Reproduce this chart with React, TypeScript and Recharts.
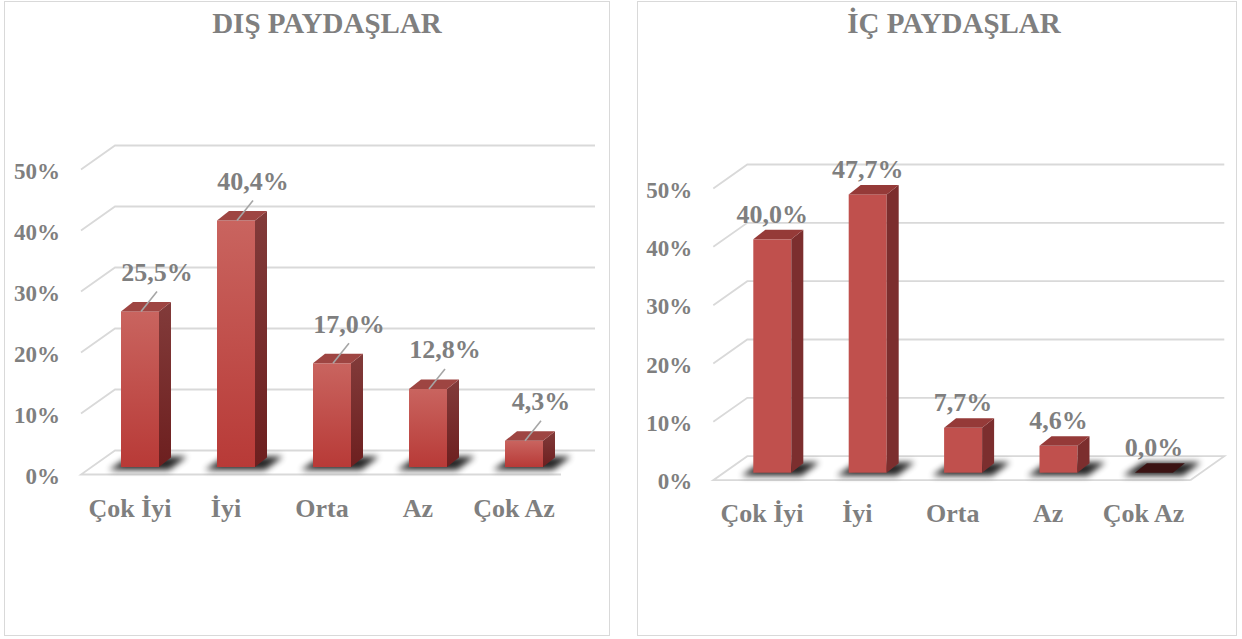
import React from "react";
import { Bar, BarChart, CartesianGrid, XAxis, YAxis } from "recharts";

const categories = ["Çok İyi", "İyi", "Orta", "Az", "Çok Az"];
const disValues = [25.5, 40.4, 17.0, 12.8, 4.3];
const icValues = [40.0, 47.7, 7.7, 4.6, 0.0];
const yTicks = [0, 10, 20, 30, 40, 50];

const FONT = '"Liberation Serif", "Times New Roman", serif';
const GRAY = "#7f7f7f";
const GRID = "#d9d9d9";
const DEPTH_X = 12;
const DEPTH_Y = 9.5;
const Y_AXIS_W = 40;

const fmt = (v: number) => v.toFixed(1).replace(".", ",") + "%";

interface PanelCfg {
  id: string;
  title: string;
  titleX: number;
  values: number[];
  offsetX: number;
  plotTop: number;
  plotBottom: number;
  plotLeft: number;
  plotWidth: number;
  leader: boolean;
  floorEdge: boolean;
  gradient: boolean;
}

const panels: PanelCfg[] = [
  {
    id: "dis",
    title: "DIŞ PAYDAŞLAR",
    titleX: 327,
    values: disValues,
    offsetX: 0,
    plotTop: 162,
    plotBottom: 467,
    plotLeft: 92,
    plotWidth: 480,
    leader: true,
    floorEdge: false,
    gradient: true,
  },
  {
    id: "ic",
    title: "İÇ PAYDAŞLAR",
    titleX: 954,
    values: icValues,
    offsetX: 630,
    plotTop: 181,
    plotBottom: 472.7,
    plotLeft: 94.3,
    plotWidth: 477,
    leader: false,
    floorEdge: true,
    gradient: false,
  },
];

const CHART_W = 612;
const CHART_H = 639;

function gridLine(cfg: PanelCfg) {
  return (props: any) => {
    const { x1, x2, y1, index } = props;
    const fy = y1 + 7.5;
    const by = y1 - 16.5;
    const fx = x1 - 11;
    const bx = x1 + 23;
    if (Math.abs(y1 - cfg.plotBottom) < 1) {
      return (
        <g key={`g-${index}`}>
          <path
            d={`M${fx},${fy} L${x2 - 11},${fy} L${x2 + 23},${by} L${bx},${by} Z`}
            fill="#ffffff"
            stroke="none"
          />
          <path
            d={`M${x2 - 11},${fy} L${fx},${fy} L${bx},${by} L${x2 + 23},${by}${
              cfg.floorEdge ? ` L${x2 - 11},${fy}` : ""
            }`}
            fill="none"
            stroke={GRID}
            strokeWidth={1.8}
          />
        </g>
      );
    }
    return (
      <path
        key={`g-${index}`}
        d={`M${fx},${fy} L${bx},${by} L${x2 + 23},${by}`}
        fill="none"
        stroke={GRID}
        strokeWidth={1.8}
      />
    );
  };
}

function YTick(props: any) {
  const { x, y, payload } = props;
  return (
    <text
      x={x - 32}
      y={y + 9}
      textAnchor="end"
      dominantBaseline="central"
      fill={GRAY}
      fontFamily={FONT}
      fontWeight="bold"
      fontSize={23}
    >
      {payload.value}%
    </text>
  );
}

function XTick(props: any) {
  const { x, y, payload } = props;
  return (
    <text
      x={x - 10}
      y={y + 41}
      textAnchor="middle"
      dominantBaseline="central"
      fill={GRAY}
      fontFamily={FONT}
      fontWeight="bold"
      fontSize={26}
    >
      {payload.value}
    </text>
  );
}

function barShape(cfg: PanelCfg) {
  return (props: any) => {
    const { x, y, width, height, index, value } = props;
    const v = typeof value === "number" ? value : Number(props.payload?.value ?? 0);
    const top = y;
    const bottom = y + height;
    const cx = x + width / 2;
    const gid = `${cfg.id}-${index}`;
    const frontFill = cfg.gradient ? `url(#front-${gid})` : "#c0504d";
    const sideFill = cfg.gradient ? `url(#side-${gid})` : "#7c2e2e";
    const topFill = v === 0 ? "#3b1313" : cfg.gradient ? "#9e4542" : "#953a38";
    const labelX = cfg.leader ? cx + 17 : cx;
    const labelY = cfg.leader ? top - 39 : top - 25;
    return (
      <g>
        <defs>
          <linearGradient id={`front-${gid}`} x1="0" y1="0" x2="0" y2="1">
            <stop offset="0%" stopColor="#c9645f" />
            <stop offset="100%" stopColor="#b83a37" />
          </linearGradient>
          <linearGradient id={`side-${gid}`} x1="0" y1="0" x2="0" y2="1">
            <stop offset="0%" stopColor="#823b3a" />
            <stop offset="100%" stopColor="#6d1f1f" />
          </linearGradient>
          <filter id={`blur-${gid}`} x="-50%" y="-100%" width="200%" height="300%">
            <feGaussianBlur stdDeviation="3" />
          </filter>
        </defs>
        <polygon
          points={`${x - 12},${bottom + 3} ${x + width + 10},${bottom + 3} ${
            x + width + DEPTH_X + 16
          },${bottom - DEPTH_Y - 1} ${x + DEPTH_X - 4},${bottom - DEPTH_Y - 1}`}
          fill="#000"
          opacity={0.85}
          filter={`url(#blur-${gid})`}
        />
        {height > 0 && <rect x={x} y={top} width={width} height={height} fill={frontFill} />}
        {height > 0 && (
          <polygon
            points={`${x + width},${top} ${x + width + DEPTH_X},${top - DEPTH_Y} ${
              x + width + DEPTH_X
            },${bottom - DEPTH_Y} ${x + width},${bottom}`}
            fill={sideFill}
          />
        )}
        <polygon
          points={`${x},${top} ${x + width},${top} ${x + width + DEPTH_X},${top - DEPTH_Y} ${
            x + DEPTH_X
          },${top - DEPTH_Y}`}
          fill={topFill}
        />
        {cfg.leader && (
          <line
            x1={cx + 1}
            y1={top}
            x2={cx + 17}
            y2={top - 20}
            stroke="#a6a6a6"
            strokeWidth={1.6}
          />
        )}
        <text
          x={labelX}
          y={labelY}
          textAnchor="middle"
          dominantBaseline="central"
          fill={GRAY}
          fontFamily={FONT}
          fontWeight="bold"
          fontSize={26}
        >
          {fmt(v)}
        </text>
      </g>
    );
  };
}

function Panel({ cfg }: { cfg: PanelCfg }) {
  const data = categories.map((name, i) => ({ name, value: cfg.values[i] }));
  const margin = {
    top: cfg.plotTop,
    bottom: CHART_H - cfg.plotBottom - 30,
    left: cfg.plotLeft - Y_AXIS_W,
    right: CHART_W - cfg.plotLeft - cfg.plotWidth,
  };
  return (
    <div style={{ position: "absolute", left: cfg.offsetX, top: 0 }}>
      <BarChart width={CHART_W} height={CHART_H} data={data} margin={margin}>
        <CartesianGrid vertical={false} horizontal={gridLine(cfg)} />
        <XAxis
          dataKey="name"
          axisLine={false}
          tickLine={false}
          tickSize={0}
          tickMargin={0}
          height={30}
          tick={<XTick />}
          interval={0}
        />
        <YAxis
          domain={[0, 50]}
          ticks={yTicks}
          axisLine={false}
          tickLine={false}
          tickSize={0}
          tickMargin={0}
          width={Y_AXIS_W}
          tick={<YTick />}
          interval={0}
        />
        <Bar
          dataKey="value"
          barSize={38}
          isAnimationActive={false}
          shape={barShape(cfg)}
        />
      </BarChart>
    </div>
  );
}

export default function App() {
  return (
    <div
      style={{
        position: "absolute",
        left: 0,
        top: 0,
        width: 1242,
        height: 639,
        background: "#ffffff",
        overflow: "hidden",
      }}
    >
      <div
        style={{
          position: "absolute",
          left: 4,
          top: 1,
          width: 606,
          height: 635,
          border: `1.5px solid ${GRID}`,
          boxSizing: "border-box",
        }}
      />
      <div
        style={{
          position: "absolute",
          left: 637,
          top: 1,
          width: 600,
          height: 635,
          border: `1.5px solid ${GRID}`,
          boxSizing: "border-box",
        }}
      />
      {panels.map((cfg) => (
        <Panel key={cfg.id} cfg={cfg} />
      ))}
      {panels.map((cfg) => (
        <div
          key={`t-${cfg.id}`}
          style={{
            position: "absolute",
            left: cfg.titleX - 200,
            top: 4,
            width: 400,
            textAlign: "center",
            fontFamily: FONT,
            fontWeight: "bold",
            fontSize: 29,
            lineHeight: "38px",
            color: GRAY,
          }}
        >
          {cfg.title}
        </div>
      ))}
    </div>
  );
}
